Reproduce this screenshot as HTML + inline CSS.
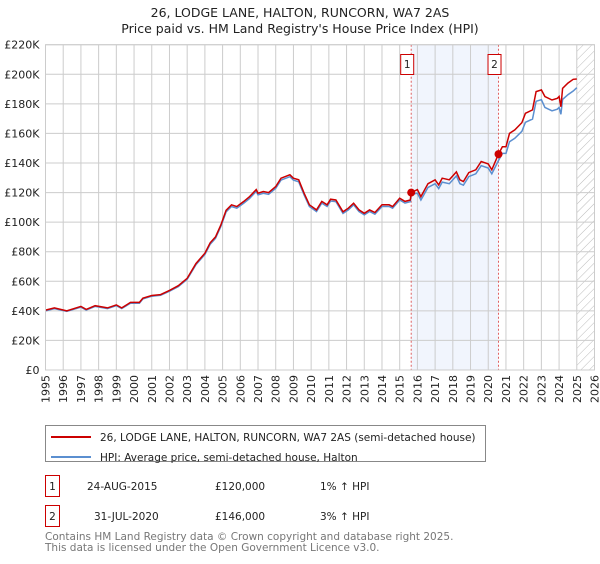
<!DOCTYPE html>
<html><head><meta charset="utf-8">
<style>
body{margin:0;background:#fff;font-family:"DejaVu Sans","Liberation Sans",sans-serif;}
svg text{font-family:"DejaVu Sans","Liberation Sans",sans-serif;}
</style></head>
<body>
<svg id="chart" width="600" height="560" viewBox="0 0 600 560" xmlns="http://www.w3.org/2000/svg">
<defs>
<pattern id="hatch" width="6" height="6" patternUnits="userSpaceOnUse" patternTransform="rotate(45)">
<line x1="0" y1="0" x2="0" y2="6" stroke="#bbb" stroke-width="1"/>
</pattern>
</defs>
<text x="300" y="17" text-anchor="middle" font-size="12.5" fill="#222">26, LODGE LANE, HALTON, RUNCORN, WA7 2AS</text>
<text x="300" y="33" text-anchor="middle" font-size="12.5" fill="#222">Price paid vs. HM Land Registry's House Price Index (HPI)</text>
<g id="grid"></g>
<g id="series"></g>
<g id="axes"></g>
<g>
<rect x="45.5" y="425.5" width="440" height="36" fill="#fff" stroke="#888"/>
<line x1="51" y1="437" x2="91" y2="437" stroke="#cc0000" stroke-width="2"/>
<text x="100" y="441" font-size="10.5" fill="#222">26, LODGE LANE, HALTON, RUNCORN, WA7 2AS (semi-detached house)</text>
<line x1="51" y1="457" x2="91" y2="457" stroke="#5b8fd0" stroke-width="2"/>
<text x="100" y="461" font-size="10.5" fill="#222">HPI: Average price, semi-detached house, Halton</text>
</g>
<g font-size="10.5" fill="#222">
<rect x="45.5" y="475.5" width="14" height="21" fill="#fff" stroke="#cc0000"/>
<text x="52.5" y="490" text-anchor="middle">1</text>
<text x="87" y="490">24-AUG-2015</text>
<text x="215" y="490">£120,000</text>
<text x="320" y="490">1% ↑ HPI</text>
</g>
<g font-size="10.5" fill="#222">
<rect x="45.5" y="505.5" width="14" height="21" fill="#fff" stroke="#cc0000"/>
<text x="52.5" y="520" text-anchor="middle">2</text>
<text x="94" y="520">31-JUL-2020</text>
<text x="215" y="520">£146,000</text>
<text x="320" y="520">3% ↑ HPI</text>
</g>
<text x="45" y="540" font-size="10.5" fill="#777">Contains HM Land Registry data © Crown copyright and database right 2025.</text>
<text x="45" y="551" font-size="10.5" fill="#777">This data is licensed under the Open Government Licence v3.0.</text>
</svg>
<script>
const yearTicks=[1995,1996,1997,1998,1999,2000,2001,2002,2003,2004,2005,2006,2007,2008,2009,2010,2011,2012,2013,2014,2015,2016,2017,2018,2019,2020,2021,2022,2023,2024,2025,2026];
const priceTicks=[0,20000,40000,60000,80000,100000,120000,140000,160000,180000,200000,220000];
const priceLabels=["£0","£20K","£40K","£60K","£80K","£100K","£120K","£140K","£160K","£180K","£200K","£220K"];
const times=[1995,1995.5,1996.2,1997,1997.3,1997.8,1998.5,1999,1999.3,1999.8,2000.3,2000.5,2001,2001.5,2002,2002.5,2003,2003.5,2004,2004.3,2004.6,2004.9,2005.2,2005.5,2005.8,2006.2,2006.5,2006.9,2007,2007.3,2007.6,2008,2008.3,2008.8,2009,2009.3,2009.6,2009.9,2010.3,2010.6,2010.9,2011.1,2011.4,2011.8,2012.1,2012.4,2012.7,2013,2013.3,2013.6,2014,2014.4,2014.6,2015,2015.3,2015.6,2015.65,2016,2016.2,2016.6,2017,2017.2,2017.4,2017.8,2018.2,2018.4,2018.6,2018.9,2019.3,2019.6,2020,2020.2,2020.58,2020.8,2021,2021.2,2021.5,2021.9,2022.1,2022.5,2022.7,2023,2023.2,2023.6,2023.9,2024,2024.1,2024.2,2024.5,2024.8,2025];
const propertyValues=[40500,42000,40000,43000,41000,43500,42000,44000,42000,45700,45700,48600,50400,51000,53800,57000,62000,72000,79000,86000,90000,98000,108000,111700,110500,114000,117000,122000,119600,120700,120000,124000,129700,132000,129700,128600,119600,111700,108300,114000,111700,115500,115000,107000,109400,112800,108300,106000,108300,106500,111700,111700,110500,116200,114000,115000,120000,122000,117300,126000,128600,125200,129700,128600,134000,128600,127500,133500,135400,141000,139400,135400,146000,151000,151000,160000,162400,167300,173600,175900,188300,189400,185000,182600,183700,185000,178000,190500,194000,196600,196800];
const hpiValues=[40000,41500,39600,42500,40600,43000,41500,43500,41600,45200,45200,48100,49900,50500,53300,56400,61400,71300,78200,85100,89100,97000,106900,110600,109400,112900,115800,120800,118400,119500,118800,122800,128400,130700,128400,127300,118400,110600,107200,112900,110600,114300,113900,105900,108300,111700,107200,104900,107200,105400,110600,110600,109400,115000,112900,113800,118800,119600,115000,123500,126000,122700,127100,126000,131300,126000,125000,130800,132700,138200,136600,132700,141700,146500,146500,154400,156700,161400,167500,169700,181700,182800,177600,175300,176400,177600,172900,183000,186200,188700,190900];
const sales=[{t:2015.65,v:120000,label:"1"},{t:2020.58,v:146000,label:"2"}];
const X0=45.5,X1=594.5,Y0=370,Y1=44.7;
const xS=t=>X0+(t-1995)/(2026-1995)*(X1-X0);
const yS=v=>Y0-(v/220000)*(Y0-Y1);
const NS="http://www.w3.org/2000/svg";
function mk(tag,attrs,parent){const e=document.createElementNS(NS,tag);for(const k in attrs)e.setAttribute(k,attrs[k]);parent.appendChild(e);return e;}
const grid=document.getElementById('grid'),ser=document.getElementById('series'),axes=document.getElementById('axes');
const band=mk('rect',{x:xS(sales[0].t),y:Y1,width:xS(sales[1].t)-xS(sales[0].t),height:Y0-Y1,fill:'#eef3fc',opacity:0.8},grid);


const hatch=mk('rect',{x:xS(2025),y:Y1,width:X1-xS(2025),height:Y0-Y1,fill:'url(#hatch)'},grid);


yearTicks.forEach(y=>{
  const l=mk('line',{x1:xS(y),x2:xS(y),y1:Y1,y2:Y0,stroke:'#ccc','stroke-width':1},grid);
  
  
  const t=mk('text',{transform:`translate(${xS(y)+4},${Y0+5}) rotate(-90)`,'text-anchor':'end','font-size':11,fill:'#222'},axes);
  t.textContent=y;
  
  
});
priceTicks.forEach((p,i)=>{
  const l=mk('line',{x1:X0,x2:X1,y1:yS(p),y2:yS(p),stroke:'#ccc','stroke-width':1},grid);
  
  
  const t=mk('text',{x:X0-6,y:yS(p)+4,'text-anchor':'end','font-size':11,fill:'#222'},axes);
  t.textContent=priceLabels[i];
  
  
});
sales.forEach(s=>{
  const l=mk('line',{x1:xS(s.t),x2:xS(s.t),y1:Y1,y2:Y0,stroke:'#e06060','stroke-width':1,'stroke-dasharray':'2,2'},grid);
  
  
});
function path(vals){return times.map((t,i)=>(i?'L':'M')+xS(t).toFixed(1)+','+yS(vals[i]).toFixed(1)).join(' ');}
const hp=mk('path',{d:path(hpiValues),fill:'none',stroke:'#5b8fd0','stroke-width':1.5},ser);


const pp=mk('path',{d:path(propertyValues),fill:'none',stroke:'#cc0000','stroke-width':1.5},ser);


sales.forEach(s=>{
  const c=mk('circle',{cx:xS(s.t),cy:yS(s.v),r:4,fill:'#cc0000'},ser);
  
  
  const g=mk('g',{},ser);
  
  
  mk('rect',{x:xS(s.t)-10.5,y:54.5,width:13,height:20,fill:'#fff',stroke:'#cc0000'},g);
  const t=mk('text',{x:xS(s.t)-4,y:68,'text-anchor':'middle','font-size':10.5,fill:'#222'},g);
  t.textContent=s.label;
});
mk('rect',{x:X0,y:Y1,width:X1-X0,height:Y0-Y1,fill:'none',stroke:'#ccc'},axes);
</script>
</body></html>
